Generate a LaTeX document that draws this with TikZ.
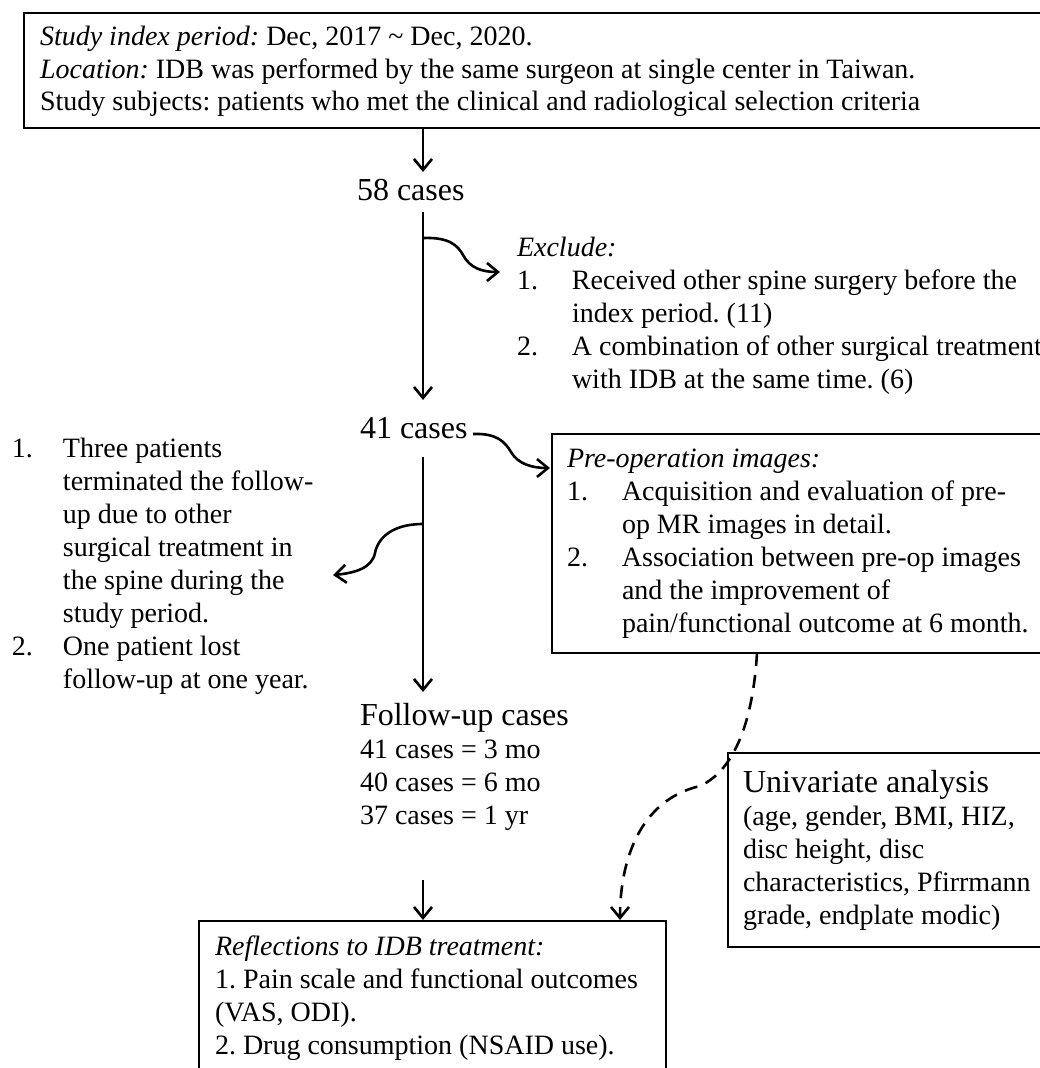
\documentclass[tikz,border=0pt]{standalone}
\usepackage{fontspec}
\setmainfont{Liberation Serif}
\usetikzlibrary{arrows.meta}
\frenchspacing
\newcommand{\bodyfont}{\fontsize{28}{33}\selectfont}
\newcommand{\headfont}{\fontsize{32}{38}\selectfont}
\newcommand{\blk}[2]{\vtop{\hsize=#1\parindent=0pt\parskip=0pt\frenchspacing\bodyfont #2\par}}
\newcommand{\itm}[2]{\makebox[#1][l]{#2}}
\tikzset{
 box/.style={draw, line width=1.8pt, anchor=north west, inner sep=0pt, outer sep=0pt},
 conn/.style={line width=2.6pt, line cap=butt, -{Straight Barb[length=11pt,width=18pt]}},
 dashconn/.style={conn, dash pattern=on 13pt off 9pt},
 txt/.style={anchor=base west, inner sep=0pt, outer sep=0pt},
}
\begin{document}
\begin{tikzpicture}[x=1pt,y=-1pt]
\useasboundingbox (0,0) rectangle (1040,1068);
\clip (0,0) rectangle (1040,1068);
\fill[white] (0,0) rectangle (1040,1068);

% top box
\node[box, minimum width=1036pt, minimum height=115pt] (topbox) at (24,13) {};
\node[txt] (toptext) at (40,45) {\blk{1000pt}{\textit{Study index period:} Dec, 2017 {\char"7E} Dec, 2020.\par
\textit{Location:} IDB was performed by the same surgeon at single center in Taiwan.\par
Study subjects: patients who met the clinical and radiological selection criteria}};

% case counts
\node[txt, font=\headfont] (c58) at (357,200) {58 cases};
\node[txt, font=\headfont] (c41) at (360,438) {41 cases};

% exclude text
\node[txt] (excl) at (517,256) {\blk{700pt}{\textit{Exclude:}\par
\itm{55pt}{1.}Received other spine surgery before the\par
\hspace*{55pt}index period. (11)\par
\itm{55pt}{2.}A combination of other surgical treatment\par
\hspace*{55pt}with IDB at the same time. (6)}};

% pre-operation box
\node[box, minimum width=510pt, minimum height=219pt] (prebox) at (552,434) {};
\node[txt] (pretext) at (567,467) {\blk{600pt}{\textit{Pre-operation images:}\par
\itm{55pt}{1.}Acquisition and evaluation of pre-\par
\hspace*{55pt}op MR images in detail.\par
\itm{55pt}{2.}Association between pre-op images\par
\hspace*{55pt}and the improvement of\par
\hspace*{55pt}pain/functional outcome at 6 month.}};

% left text (lost to follow-up)
\node[txt] (lost) at (12,457) {\blk{400pt}{\itm{51pt}{1.}Three patients\par
\hspace*{51pt}terminated the follow-\par
\hspace*{51pt}up due to other\par
\hspace*{51pt}surgical treatment in\par
\hspace*{51pt}the spine during the\par
\hspace*{51pt}study period.\par
\itm{51pt}{2.}One patient lost\par
\hspace*{51pt}follow-up at one year.}};

% follow-up cases
\node[txt] (fu) at (360,725) {\blk{300pt}{{\headfont Follow-up cases\par}
41 cases = 3 mo\par
40 cases = 6 mo\par
37 cases = 1 yr}};

% univariate box
\node[box, minimum width=330pt, minimum height=194pt] (unibox) at (728,753) {};
\node[txt] (unitext) at (743,792) {\blk{320pt}{{\headfont Univariate analysis\par}
(age, gender, BMI, HIZ,\par
disc height, disc\par
characteristics, Pfirrmann\par
grade, endplate modic)}};

% bottom box
\node[box, minimum width=467pt, minimum height=200pt] (botbox) at (199,921) {};
\node[txt] (bottext) at (215,955) {\blk{460pt}{\textit{Reflections to IDB treatment:}\par
1. Pain scale and functional outcomes\par
(VAS, ODI).\par
2. Drug consumption (NSAID use).}};

% connector end points
\coordinate (a1s) at (423,128);
\coordinate (a1e) at (423,172);
\coordinate (a2s) at (423,212);
\coordinate (a2e) at (423,400);
\coordinate (b1s) at (423,238);
\coordinate (b1e) at (500,272);
\coordinate (b2s) at (473,434);
\coordinate (b2e) at (550,468);
\coordinate (a3s) at (423,457);
\coordinate (a3e) at (423,692);
\coordinate (b3s) at (423,524);
\coordinate (b3e) at (333,575);
\coordinate (a4s) at (423,880);
\coordinate (a4e) at (423,920);
\coordinate (d1s) at (757,653);
\coordinate (d1e) at (620,920);

% connectors
\draw[conn] (a1s) -- (a1e);
\draw[conn] (a2s) -- (a2e);
\draw[conn] (b1s) .. controls (450,237) and (458,246) .. (463,255) .. controls (470,268) and (482,272) .. (b1e);
\draw[conn] (b2s) .. controls (497,433) and (505,442) .. (511,452) .. controls (518,464) and (532,468) .. (b2e);
\draw[conn] (a3s) -- (a3e);
\draw[conn] (b3s) .. controls (392,524) and (378,538) .. (375,553) .. controls (372,568) and (355,573) .. (b3e);
\draw[conn] (a4s) -- (a4e);
\draw[dashconn] (d1s) .. controls (753,720) and (735,770) .. (700,786) .. controls (640,800) and (620,860) .. (d1e);
\end{tikzpicture}
\end{document}
